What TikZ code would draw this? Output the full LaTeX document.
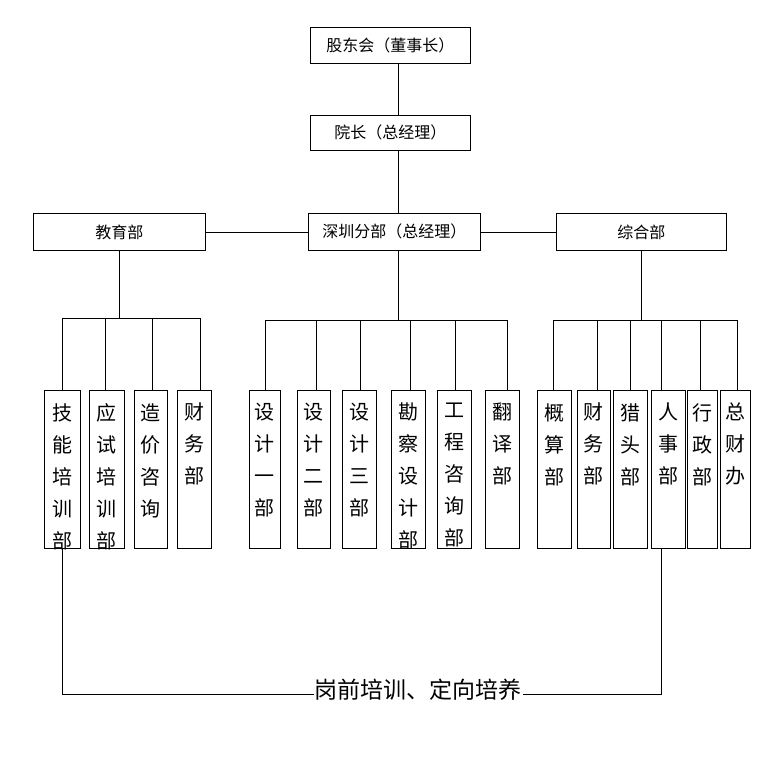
\documentclass[tikz,border=0pt]{standalone}
\usepackage{fontspec}
\newfontfamily\cjk{Noto Sans CJK SC}
\begin{document}
\begin{tikzpicture}[x=1pt,y=-1pt,
  hbox/.style={draw,thick,anchor=north west,inner sep=0,font=\cjk\fontsize{16}{18}\selectfont},
  vbox/.style={draw,thick,anchor=north west,inner sep=0},
  vtxt/.style={anchor=north,align=center,inner sep=0,font=\cjk\fontsize{20}{32}\selectfont},
  ln/.style={thick}]
\useasboundingbox (0,0) rectangle (780,780);
\node[hbox,minimum width=160,minimum height=36] (gd) at (310,27) {股东会（董事长）};
\node[hbox,minimum width=160,minimum height=35] (yz) at (310,115) {院长（总经理）};
\node[hbox,minimum width=172,minimum height=37] (jy) at (33,213) {教育部};
\node[hbox,minimum width=172,minimum height=37] (sz) at (308,213) {深圳分部（总经理）};
\node[hbox,minimum width=170,minimum height=37] (zh) at (556,213) {综合部};
\coordinate (cx) at (398,0);
\draw[ln] (gd.south -| cx) -- (yz.north -| cx);
\draw[ln] (yz.south -| cx) -- (sz.north -| cx);
\draw[ln] (jy.east) -- (sz.west);
\draw[ln] (sz.east) -- (zh.east -| zh.west);
\newcommand\vb[5]{%
  \node[vbox,minimum width=#3,minimum height=158] (#1) at (#2,390) {};
  \node[vtxt] (#1t) at ([yshift=-13]#1.north) {#4};}
% left group
\vb{a1}{44}{36}{技\\能\\培\\训\\部}{}
\vb{a2}{89}{35}{应\\试\\培\\训\\部}{}
\vb{a3}{134}{33}{造\\价\\咨\\询}{}
\vb{a4}{177}{34}{财\\务\\部}{}
\coordinate (ja) at (119,318);
\draw[ln] (jy.south -| ja) -- (ja);
\draw[ln] (62,318) -- (200,318);
\foreach \n/\x in {a1/62,a2/105,a3/152,a4/200}{\draw[ln] (\x,318) -- (\n.north -| \x,0);}
% middle
\vb{b1}{249}{31}{设\\计\\一\\部}{}
\vb{b2}{297}{33}{设\\计\\二\\部}{}
\vb{b3}{342}{34}{设\\计\\三\\部}{}
\vb{b4}{391}{34}{勘\\察\\设\\计\\部}{}
\vb{b5}{437}{34}{工\\程\\咨\\询\\部}{}
\vb{b6}{485}{34}{翻\\译\\部}{}
\draw[ln] (sz.south -| cx) -- (398,320);
\draw[ln] (265,320) -- (507,320);
\foreach \n/\x in {b1/265,b2/316,b3/360,b4/410,b5/455,b6/507}{\draw[ln] (\x,320) -- (\n.north -| \x,0);}
% right
\vb{c1}{537}{34}{概\\算\\部}{}
\vb{c2}{577}{33}{财\\务\\部}{}
\vb{c3}{613}{34}{猎\\头\\部}{}
\vb{c4}{651}{34}{人\\事\\部}{}
\vb{c5}{687}{30}{行\\政\\部}{}
\vb{c6}{720}{30}{总\\财\\办}{}
\draw[ln] (zh.south -| 641,0) -- (641,320);
\draw[ln] (553,320) -- (737,320);
\foreach \n/\x in {c1/553,c2/597,c3/630,c4/661,c5/700,c6/737}{\draw[ln] (\x,320) -- (\n.north -| \x,0);}
% bottom
\coordinate (bl) at (62,694);
\coordinate (br) at (661,694);
\draw[ln] (a1.south -| bl) -- (bl) -- (br) -- (c4.south -| br);
\node[fill=white,inner sep=1,font=\cjk\fontsize{23}{26}\selectfont] (pq) at (418,690) {岗前培训、定向培养};
\end{tikzpicture}
\end{document}
